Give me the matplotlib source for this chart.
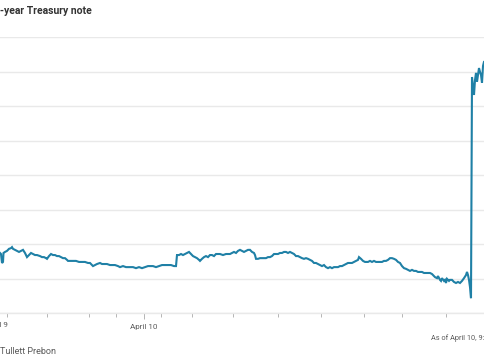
import numpy as np
import matplotlib.pyplot as plt
from matplotlib.ticker import FixedLocator, NullFormatter

# ==========================================
# DATA
# ==========================================
# trading-time index (axis runs 0..485), level in gridline units
t = [0, 1, 2, 3, 3.5, 5, 7, 9, 11, 12, 13, 15, 17, 19, 21, 23, 25, 27, 29, 31,
     33, 35, 37, 40, 42, 44, 46, 47, 49, 51, 53, 55, 57, 59, 61, 63, 65, 67, 68, 70,
     73, 76, 79, 82, 85, 88, 90, 92, 93, 95, 97, 100, 102, 105, 107, 110, 113, 115, 118, 120,
     123, 126, 130, 133, 136, 139, 142, 145, 148, 150, 153, 156, 159, 162, 165, 168, 171, 174, 176, 177,
     179, 181, 183, 185, 187, 189, 191, 193, 195, 197, 199, 200, 202, 204, 206, 208, 210, 212, 214, 216,
     218, 220, 223, 226, 228, 230, 232, 234, 236, 238, 240, 242, 244, 246, 248, 250, 252, 254, 255, 256,
     258, 260, 262, 264, 266, 268, 270, 272, 274, 276, 278, 280, 282, 284, 286, 288, 290, 292, 294, 296,
     298, 300, 302, 304, 306, 308, 310, 312, 314, 316, 318, 320, 322, 324, 326, 328, 330, 332, 334, 336,
     338, 340, 342, 344, 346, 348, 350, 352, 354, 356, 358, 359, 361, 363, 365, 368, 370, 372, 374, 376,
     378, 380, 382, 384, 386, 388, 390, 392, 394, 396, 398, 400, 402, 404, 406, 408, 410, 412, 414, 416,
     418, 420, 422, 424, 426, 428, 430, 432, 434, 435, 437, 438, 440, 441, 442, 444, 445, 446, 447, 449,
     450, 452, 454, 456, 458, 460, 462, 464, 466, 467, 468, 469, 470, 471, 472, 473, 474, 475, 476, 477,
     478, 479, 480, 481, 482, 483, 484, 485]
level = [1.74, 1.71, 1.45, 1.48, 1.74, 1.77, 1.80, 1.86, 1.88, 1.91, 1.86, 1.83, 1.80, 1.77, 1.80, 1.83, 1.74, 1.62, 1.68, 1.74,
         1.71, 1.68, 1.68, 1.65, 1.62, 1.62, 1.59, 1.57, 1.65, 1.71, 1.68, 1.68, 1.65, 1.65, 1.62, 1.59, 1.59, 1.54, 1.51, 1.51,
         1.51, 1.51, 1.48, 1.48, 1.48, 1.45, 1.45, 1.39, 1.36, 1.39, 1.42, 1.45, 1.42, 1.42, 1.42, 1.39, 1.39, 1.39, 1.36, 1.33,
         1.36, 1.33, 1.33, 1.33, 1.30, 1.33, 1.30, 1.33, 1.36, 1.36, 1.36, 1.33, 1.36, 1.39, 1.39, 1.39, 1.39, 1.36, 1.36, 1.68,
         1.68, 1.71, 1.68, 1.71, 1.74, 1.77, 1.71, 1.65, 1.62, 1.59, 1.54, 1.51, 1.57, 1.62, 1.65, 1.62, 1.68, 1.68, 1.65, 1.71,
         1.71, 1.71, 1.68, 1.71, 1.71, 1.71, 1.74, 1.77, 1.74, 1.80, 1.83, 1.80, 1.77, 1.80, 1.83, 1.83, 1.77, 1.74, 1.68, 1.57,
         1.57, 1.59, 1.59, 1.59, 1.59, 1.62, 1.62, 1.65, 1.71, 1.71, 1.71, 1.74, 1.74, 1.77, 1.77, 1.74, 1.77, 1.74, 1.71, 1.65,
         1.65, 1.62, 1.59, 1.57, 1.59, 1.57, 1.54, 1.51, 1.45, 1.45, 1.42, 1.39, 1.36, 1.39, 1.33, 1.30, 1.33, 1.30, 1.33, 1.33,
         1.33, 1.36, 1.36, 1.39, 1.42, 1.45, 1.45, 1.45, 1.48, 1.51, 1.54, 1.62, 1.57, 1.51, 1.48, 1.48, 1.51, 1.48, 1.51, 1.48,
         1.48, 1.48, 1.48, 1.51, 1.51, 1.54, 1.59, 1.59, 1.57, 1.54, 1.48, 1.45, 1.36, 1.30, 1.28, 1.25, 1.22, 1.25, 1.22, 1.22,
         1.19, 1.19, 1.19, 1.16, 1.16, 1.16, 1.16, 1.13, 1.07, 1.04, 1.01, 1.07, 0.96, 0.93, 1.01, 0.93, 0.96, 0.87, 0.99, 0.93,
         0.96, 0.96, 0.90, 0.87, 0.90, 0.87, 0.93, 1.01, 1.10, 1.19, 1.10, 0.96, 0.75, 0.43, 6.84, 6.55, 6.32, 6.75, 6.96, 6.70,
         6.90, 7.10, 6.99, 6.90, 6.67, 7.16, 7.28, 7.30]

hour_ticks = [7, 47, 89, 116, 144, 161, 192, 233, 278, 321, 364, 402, 446]
day_ticks = [144]
day_labels = ["April 10"]

title = "-year Treasury note"
note = "As of April 10, 9:30 a.m. ET"
source = "Tullett Prebon"

# ==========================================
# PLOT
# ==========================================
plt.rcParams['font.family'] = ['Roboto', 'DejaVu Sans']
grey_txt = '#5a5a5a'

fig = plt.figure(figsize=(4.85, 3.6), dpi=100)
ax = fig.add_axes([0, 47 / 360, 1, 276 / 360])

ax.plot(t, level, color='#1f80a6', lw=1.5, solid_joinstyle='miter')

ax.set_xlim(0, 485)
ax.set_ylim(0, 8)
ax.set_yticks(range(0, 9))
ax.yaxis.grid(True, color='#e9e9e9', lw=1)
ax.tick_params(axis='y', left=False, labelleft=False)

ax.xaxis.set_minor_locator(FixedLocator(hour_ticks))
ax.xaxis.set_minor_formatter(NullFormatter())
ax.set_xticks(day_ticks)
ax.set_xticklabels(day_labels)
ax.tick_params(axis='x', which='minor', length=3, width=0.6, color='#aaaaaa')
ax.tick_params(axis='x', which='major', length=4, width=0.6, color='#aaaaaa',
               labelsize=5.8, labelcolor=grey_txt, pad=4)

for s in ['top', 'left', 'right']:
    ax.spines[s].set_visible(False)
ax.spines['bottom'].set_color('#e9e9e9')
ax.spines['bottom'].set_linewidth(1)
ax.set_axisbelow(True)

# day label whose tick falls just left of the crop
fig.text(-4 / 485, 1 - 325 / 360, "April 9", ha='center', va='center',
         fontsize=5.8, color=grey_txt)

fig.text(0, 1 - 11 / 360, title, ha='left', va='center', fontsize=7.5,
         fontweight='bold', color='#333333')
fig.text(431 / 485, 1 - 338 / 360, note, ha='left', va='center',
         fontsize=5.3, color=grey_txt)
fig.text(0, 1 - 351 / 360, source, ha='left', va='center',
         fontsize=6.5, color=grey_txt)

fig.savefig("out.png", dpi=100)
